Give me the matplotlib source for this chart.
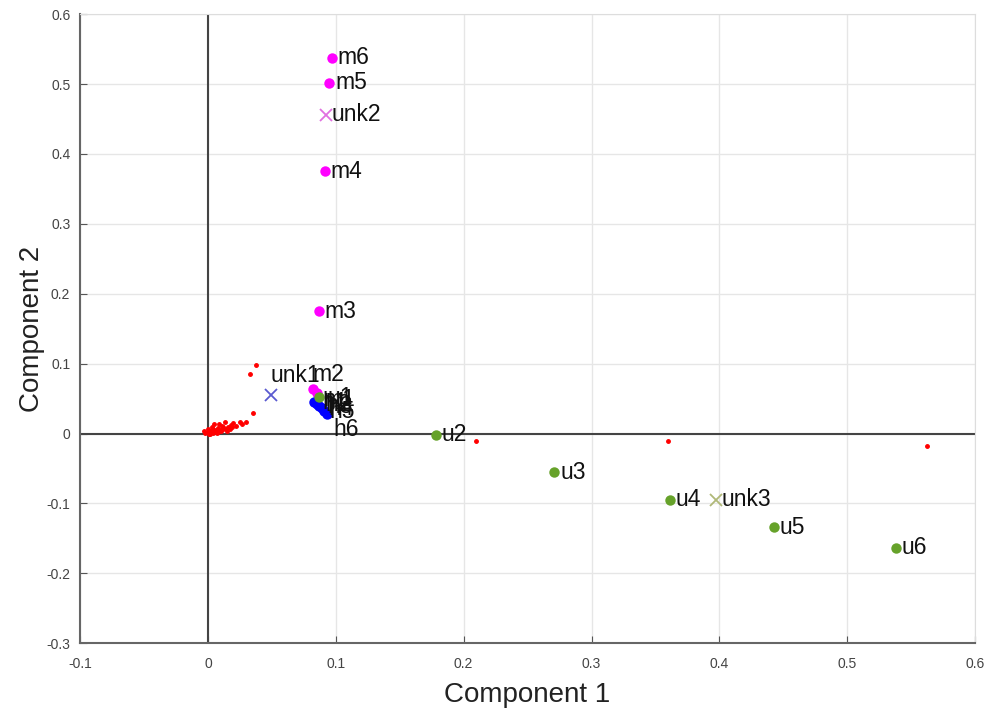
import matplotlib.pyplot as plt

plt.rcParams['font.family'] = ['Liberation Sans', 'DejaVu Sans']

# group m (magenta)
m_x = [0.085, 0.082, 0.087, 0.0915, 0.095, 0.097]
m_y = [0.058, 0.064, 0.175, 0.375, 0.502, 0.538]
m_lab = ['m1', 'm2', 'm3', 'm4', 'm5', 'm6']

# group h (blue)
h_x = [0.083, 0.085, 0.087, 0.089, 0.091, 0.093]
h_y = [0.045, 0.042, 0.039, 0.036, 0.032, 0.028]
h_lab = ['h1', 'h2', 'h3', 'h4', 'h5', 'h6']

# group u (green)
u_x = [0.087, 0.178, 0.271, 0.361, 0.443, 0.538]
u_y = [0.052, -0.002, -0.055, -0.095, -0.134, -0.163]
u_lab = ['u1', 'u2', 'u3', 'u4', 'u5', 'u6']

# unknowns
unk_x = [0.049, 0.092, 0.397]
unk_y = [0.055, 0.456, -0.095]
unk_lab = ['unk1', 'unk2', 'unk3']
unk_col = ['#5a5ad0', '#e070e0', '#b0b878']

# red background points
r_x = [0.000, 0.002, 0.004, 0.001, 0.006, 0.008, 0.003, 0.010, 0.005, 0.012,
       0.007, 0.009, 0.014, 0.011, 0.016, 0.013, 0.018, 0.020, 0.015, 0.022,
       0.025, 0.017, 0.019, 0.027, 0.030, -0.002, -0.003, 0.000, 0.002, 0.004,
       0.006, 0.008, 0.010, 0.012, 0.033, 0.038, 0.035, 0.210, 0.360, 0.562]
r_y = [0.002, 0.004, 0.006, 0.000, 0.003, 0.008, 0.010, 0.005, 0.013, 0.009,
       0.001, 0.014, 0.007, 0.011, 0.010, 0.016, 0.012, 0.015, 0.004, 0.011,
       0.017, 0.006, 0.009, 0.014, 0.016, 0.001, 0.003, 0.007, -0.001, 0.001,
       0.005, 0.002, 0.003, 0.006, 0.085, 0.098, 0.029, -0.011, -0.011, -0.018]

# label offsets in points (dx, dy)
off = {'m1': (5, -5), 'm2': (0, 10), 'h6': (5, -11), 'unk1': (0, 14),
       'h1': (6, 0), 'h2': (6, 0), 'h3': (6, 0), 'h4': (5, 0), 'h5': (4, 0), 'u1': (6, 0)}

fig = plt.figure(figsize=(9.88, 7.10), dpi=100)
ax = fig.add_axes([0.081, 0.094, 0.906, 0.886])

ax.axhline(0, color='#444444', lw=1.5, zorder=1)
ax.axvline(0, color='#444444', lw=1.5, zorder=1)

ax.plot(r_x, r_y, '.', color='red', ms=5, zorder=2)
ax.plot(m_x, m_y, 'o', color='#ff00ff', ms=7.5, mec='none', zorder=3)
ax.plot(h_x, h_y, 'o', color='#0000ff', ms=7.5, mec='none', zorder=3)
ax.plot(u_x, u_y, 'o', color='#66a22a', ms=7.5, mec='none', zorder=3)
for x, y, c in zip(unk_x, unk_y, unk_col):
    ax.plot(x, y, 'x', color=c, ms=9, mew=1.3, zorder=3)

for xs, ys, labs in [(m_x, m_y, m_lab), (h_x, h_y, h_lab), (u_x, u_y, u_lab), (unk_x, unk_y, unk_lab)]:
    for x, y, s in zip(xs, ys, labs):
        dx, dy = off.get(s, (4, 0))
        ax.annotate(s, (x, y), xytext=(dx, dy), textcoords='offset points',
                    fontsize=16.5, va='center', ha='left', color='#111111', zorder=4)

ax.set_xlim(-0.1, 0.6)
ax.set_ylim(-0.3, 0.6)
xt = [-0.1, 0, 0.1, 0.2, 0.3, 0.4, 0.5, 0.6]
yt = [-0.3, -0.2, -0.1, 0, 0.1, 0.2, 0.3, 0.4, 0.5, 0.6]
ax.set_xticks(xt)
ax.set_xticklabels(['-0.1', '0', '0.1', '0.2', '0.3', '0.4', '0.5', '0.6'])
ax.set_yticks(yt)
ax.set_yticklabels(['-0.3', '-0.2', '-0.1', '0', '0.1', '0.2', '0.3', '0.4', '0.5', '0.6'])
ax.tick_params(direction='in', length=5, labelsize=10, colors='#555555', labelcolor='#444444')
ax.tick_params(axis='x', pad=10)
ax.tick_params(axis='y', pad=7)
ax.grid(True, color='#e6e6e6', lw=1)
ax.set_axisbelow(True)
for s in ['top', 'right']:
    ax.spines[s].set_color('#dddddd')
for s in ['left', 'bottom']:
    ax.spines[s].set_color('#666666')
    ax.spines[s].set_linewidth(1.5)

ax.set_xlabel('Component 1', fontsize=20, color='#222222', labelpad=8)
ax.set_ylabel('Component 2', fontsize=20, color='#222222', labelpad=1)

fig.savefig('out.png', dpi=100)
